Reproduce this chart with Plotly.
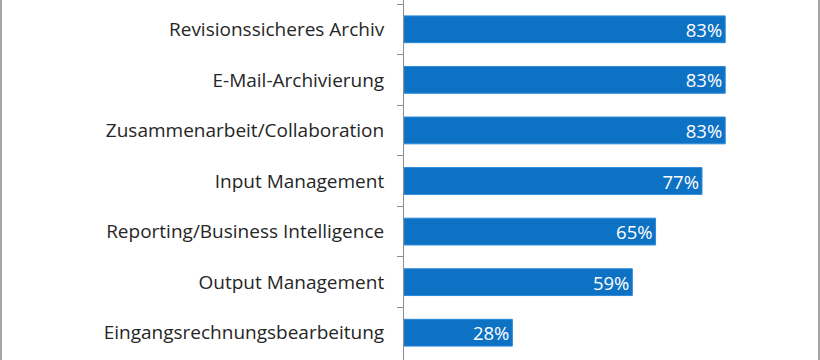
import plotly.graph_objects as go

categories = [
    "Revisionssicheres Archiv",
    "E-Mail-Archivierung",
    "Zusammenarbeit/Collaboration",
    "Input Management",
    "Reporting/Business Intelligence",
    "Output Management",
    "Eingangsrechnungsbearbeitung",
]
values = [83, 83, 83, 77, 65, 59, 28]
labels = [f"{v}%" for v in values]

W, H = 820, 360
L, R = 404, 29
FONT = "Open Sans"

fig = go.Figure(
    go.Bar(
        x=values,
        y=categories,
        orientation="h",
        width=0.53,
        marker=dict(color="#0E72C4", line=dict(color="#2C8ADA", width=1)),
        text=labels,
        textposition="inside",
        insidetextanchor="end",
        constraintext="none",
        textfont=dict(color="white", size=18.5, family=FONT),
        cliponaxis=False,
    )
)

per = 354 / 7.0
top_extra = 4 / per
bot_extra = 2 / per

fig.update_layout(
    width=W,
    height=H,
    margin=dict(l=L, r=R, t=0, b=0),
    paper_bgcolor="white",
    plot_bgcolor="white",
    showlegend=False,
    font=dict(family=FONT, color="#262626"),
    shapes=[
        dict(type="line", xref="paper", yref="paper",
             x0=-(L - 1) / (W - L - R), x1=-(L - 1) / (W - L - R), y0=0, y1=1,
             line=dict(color="#a6a6a6", width=2)),
        dict(type="line", xref="paper", yref="paper",
             x0=1 + (R - 1) / (W - L - R), x1=1 + (R - 1) / (W - L - R), y0=0, y1=1,
             line=dict(color="#a6a6a6", width=2)),
    ],
)
fig.update_xaxes(range=[0, 100], visible=False)
fig.update_yaxes(
    categoryorder="array",
    categoryarray=categories,
    range=[6.5 + bot_extra, -0.5 - top_extra],
    tickson="boundaries",
    ticks="outside",
    ticklen=6,
    tickcolor="#8c8c8c",
    showline=True,
    linecolor="#8c8c8c",
    linewidth=1,
    showgrid=False,
    tickfont=dict(size=19, family=FONT, color="#262626"),
    ticklabelstandoff=15,
)

fig.write_html(
    "out.html",
    config={"displayModeBar": False},
    post_script="document.body.style.margin='0';",
)
